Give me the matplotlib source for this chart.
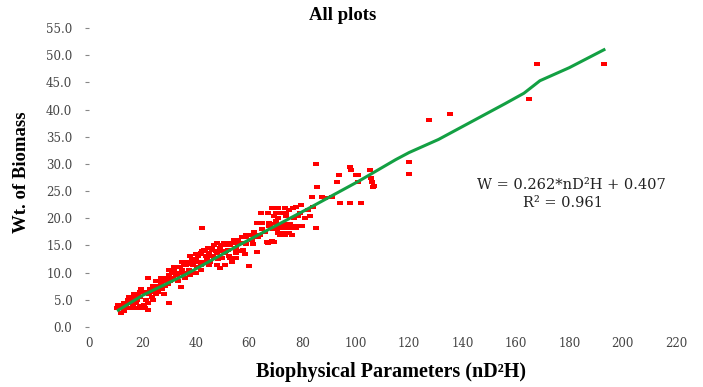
import matplotlib
matplotlib.use("Agg")
import matplotlib.pyplot as plt
from matplotlib.path import Path

obs_x = [10.5, 11, 11.5, 12, 12, 13, 13, 14, 14.5, 15, 15.5, 16, 16.5, 17, 17.5, 18, 18.5,
         19, 19.5, 19, 20, 20.5, 21, 21.5, 22, 22, 22.5, 23, 23.5, 24, 24.5, 25, 25, 26,
         26.5, 27, 27.5, 28, 28.5, 29, 29.5, 30, 30, 30.5, 31, 31.5, 32, 32.5, 33, 33.5,
         34, 34.5, 34.6, 35, 35.5, 36, 36, 37, 37.5, 38, 38.5, 39, 39.5, 40, 40.5, 41,
         41.5, 42, 42.5, 42.5, 43, 43.5, 44, 44.5, 45, 45.5, 46, 46.5, 47, 47.5, 48, 48.5,
         49, 49, 49.5, 50, 50.5, 51, 51.5, 52, 52.5, 53, 53.5, 54, 54.5, 55, 55.5, 56,
         56.5, 57, 57.5, 58, 58.5, 59, 60, 60, 61, 62, 63, 63.5, 64, 65, 66, 67, 67.5, 68,
         68.5, 69, 69.5, 70, 70.5, 71, 71.5, 72, 72.5, 73, 73.5, 74, 74.5, 75, 75.5, 76,
         76.5, 77, 77.5, 78, 78.5, 79, 79.5, 80, 81, 82, 83, 83.5, 84, 85, 85, 85.5, 87.4,
         88.5, 91, 93, 93.6, 94.2, 98, 98, 98.3, 100, 101, 101, 102, 105.3, 105.7, 106,
         106.5, 107, 120, 120, 127.6, 135.3, 164.8, 167.8, 193]
obs_y = [3.5, 4.0, 3.5, 2.6, 4.0, 3.5, 4.5, 4.0, 5.0, 3.5, 4.5, 5.0, 4.0, 5.5, 4.5, 5.0, 6.0,
         5.5, 7.0, 3.8, 6.5, 4.0, 3.5, 5.0, 3.1, 9.0, 6.0, 7.0, 5.5, 7.5, 6.5, 8.5, 6.0, 7.5,
         8.5, 9.0, 7.0, 8.5, 7.5, 9.0, 8.0, 4.4, 9.5, 8.5, 10.0, 9.0, 10.5, 9.5, 10.0, 8.5,
         11.0, 10.0, 7.3, 10.5, 11.5, 10.0, 11.5, 12.0, 10.5, 11.5, 12.5, 10.0, 12.0, 12.5,
         11.0, 13.0, 12.0, 13.5, 18.2, 14.0, 12.0, 14.0, 13.0, 14.5, 13.5, 12.0, 14.5, 13.0,
         15.0, 14.0, 15.5, 12.5, 10.8, 14.5, 15.0, 14.0, 15.5, 15.0, 14.0, 15.5, 13.0, 15.0,
         12.0, 15.5, 16.0, 14.5, 15.5, 16.0, 14.0, 15.5, 16.5, 15.5, 13.5, 16.5, 11.2, 17.0,
         16.0, 17.5, 13.8, 16.5, 17.0, 18.0, 17.5, 15.5, 18.5, 19.0, 15.8, 18.0, 20.5, 19.5,
         18.0, 20.0, 17.0, 18.5, 21.0, 19.0, 17.0, 20.5, 18.5, 21.5, 19.0, 17.0, 18.5, 20.0,
         22.0, 18.5, 20.5, 21.0, 22.4, 18.5, 20.0, 21.5, 20.5, 23.9, 22.0, 18.2, 30.0, 25.7,
         23.9, 23.7, 24.0, 26.6, 27.9, 22.9, 22.9, 29.4, 28.8, 27.9, 27.9, 26.6, 22.9, 28.8,
         27.5, 26.6, 25.7, 26.0, 30.4, 28.2, 38.1, 39.1, 42.0, 48.3, 48.3]

# the crowded strips in the middle of the cloud
dense_x = [68.6, 71, 73.5, 76.5, 64.6, 67, 70, 74, 63, 65, 67.5, 70, 71, 73, 75.5, 77.7,
           71, 73, 75, 66.6, 69.4, 58.8, 60.5, 62.7, 51, 53, 56, 59, 61.6,
           43, 46, 49, 52, 55, 57.6, 42, 45, 48, 51, 55, 44.4, 47, 50, 53, 55,
           36.5, 39, 42, 45, 48, 51, 15, 17, 19, 21, 23, 25, 27, 29, 31, 33, 24, 26, 28,
           20, 18, 13, 16, 22, 30, 32, 35, 38, 40, 36, 38, 40, 42]
dense_y = [21.8, 21.8, 21.8, 21.8, 20.9, 20.9, 20.9, 20.9, 19.1, 19.1, 19.1, 19.1,
           18.3, 18.3, 18.3, 18.3, 17.2, 17.2, 17.2, 15.6, 15.6, 16.9, 16.9, 16.9,
           15.2, 15.2, 15.2, 15.2, 15.2, 14.1, 14.1, 14.1, 14.1, 14.1, 14.1,
           13.6, 13.6, 13.6, 13.6, 13.6, 12.7, 12.7, 12.7, 12.7, 12.7,
           11.4, 11.4, 11.4, 11.4, 11.4, 11.4, 5.5, 6.0, 6.5, 6.5, 6.5, 7.0, 8.0, 8.5,
           9.0, 9.5, 5.0, 6.5, 6.0, 3.5, 3.5, 3.0, 3.5, 4.5, 10.5, 11.0, 12.0, 13.0,
           13.5, 9.0, 9.5, 10.0, 10.5]

# predicted line
fit_x = [11, 20, 36, 56, 83, 101, 115, 120, 131, 156, 163, 169, 180, 193]
fit_y = [3.1, 5.8, 9.6, 15.0, 22.0, 26.8, 30.8, 32.1, 34.5, 41.1, 43.0, 45.3, 47.7, 51.0]

x_ticks = list(range(0, 221, 20))
y_ticks = [0, 5, 10, 15, 20, 25, 30, 35, 40, 45, 50, 55]

# small flat rectangle, like the excel marker
dash = Path([(-1, -0.55), (1, -0.55), (1, 0.55), (-1, 0.55), (-1, -0.55)],
            [Path.MOVETO, Path.LINETO, Path.LINETO, Path.LINETO, Path.CLOSEPOLY])

fig = plt.figure(figsize=(7.03, 3.87), dpi=100)
ax = fig.add_axes([89 / 703, 1 - 327 / 387, (676 - 89) / 703, (327 - 28) / 387])

for xs, ys in [(obs_x, obs_y), (dense_x, dense_y)]:
    ax.plot(xs, ys, linestyle="none", marker=dash, markersize=5,
            color="#ff0000", markeredgewidth=0)
ax.plot(fit_x, fit_y, color="#13a043", linewidth=2.2)

ax.set_xlim(0, 220)
ax.set_ylim(0, 55)
ax.set_xticks(x_ticks)
ax.set_yticks(y_ticks)
ax.set_xticklabels([str(v) for v in x_ticks], family="DejaVu Serif", fontsize=8.5, color="#444444")
ax.set_yticklabels(["%.1f" % v for v in y_ticks], family="DejaVu Serif", fontsize=8.5, color="#444444")
ax.tick_params(axis="x", length=0, pad=7)
ax.tick_params(axis="y", length=3, width=0.8, color="#888888", pad=9)
for s in ax.spines.values():
    s.set_visible(False)

fig.text(343 / 703, 1 - 15 / 387, "All plots", family="Liberation Serif",
         fontweight="bold", fontsize=13.5, ha="center", va="center")
fig.text(22 / 703, 1 - 172 / 387, "Wt. of Biomass", family="Liberation Serif",
         fontweight="bold", fontsize=13.5, ha="center", va="center", rotation=90)
fig.text(391 / 703, 1 - 372 / 387, "Biophysical Parameters (nD²H)",
         family="Liberation Serif", fontweight="bold", fontsize=14.5, ha="center", va="center")

fig.text(571 / 703, 1 - 185 / 387, "W = 0.262*nD²H + 0.407", family="DejaVu Serif",
         fontsize=10.5, ha="center", va="center", color="#222222")
fig.text(563 / 703, 1 - 203 / 387, "R² = 0.961", family="DejaVu Serif",
         fontsize=10.5, ha="center", va="center", color="#222222")

fig.savefig("out.png", dpi=100)
